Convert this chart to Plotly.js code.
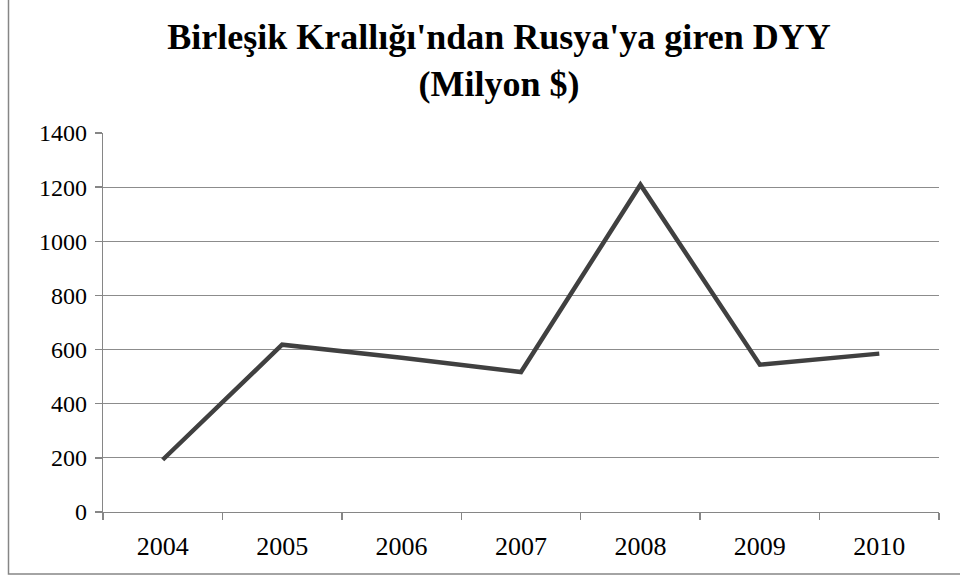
<!DOCTYPE html>
<html>
<head>
<meta charset="utf-8">
<script src="https://cdn.plot.ly/plotly-3.0.1.min.js"></script>
<style>html,body{margin:0;padding:0;background:#fff;}#chart{width:960px;height:579px;}</style>
</head>
<body>
<div id="chart"></div>
<script>
const years = ['2004', '2005', '2006', '2007', '2008', '2009', '2010'];
const fdiValues = [193, 618, 570, 517, 1209, 544, 585];
const yTicks = [0, 200, 400, 600, 800, 1000, 1200, 1400];
const titleText = "Birleşik Krallığı'ndan Rusya'ya giren DYY<br>(Milyon $)";

const W = 960, H = 579;
const margin = {l: 103, r: 21, t: 133, b: 67};
const pw = W - margin.l - margin.r, ph = H - margin.t - margin.b;
const px2paperX = x => (x - margin.l) / pw;
const px2paperY = y => (H - margin.b - y) / ph;
const serif = 'Liberation Serif';

const trace = {
  x: years, y: fdiValues, type: 'scatter', mode: 'lines',
  line: {color: '#404040', width: 4.5},
  hoverinfo: 'x+y'
};

const layout = {
  width: W, height: H, margin: margin,
  paper_bgcolor: '#ffffff', plot_bgcolor: '#ffffff',
  showlegend: false,
  font: {family: serif, color: '#000000'},
  title: {
    text: '<b>' + titleText + '</b>',
    font: {family: serif, size: 36, color: '#000000'},
    x: 499 / W, xanchor: 'center', xref: 'container',
    y: 1 - 49 / H, yanchor: 'top', yref: 'container'
  },
  xaxis: {
    type: 'category', tickson: 'boundaries', range: [-0.5, 6.5],
    showline: true, linecolor: '#868686', linewidth: 1.3,
    ticks: 'outside', ticklen: 7, tickcolor: '#868686', tickwidth: 1.3,
    ticklabelstandoff: 10,
    showgrid: false, zeroline: false,
    tickfont: {family: serif, size: 26, color: '#000000'}
  },
  yaxis: {
    range: [0, 1400], tickvals: yTicks, ticktext: yTicks.map(String),
    showline: true, linecolor: '#868686', linewidth: 1.3,
    ticks: 'outside', ticklen: 7, tickcolor: '#868686', tickwidth: 1.3,
    ticklabelstandoff: 3,
    showgrid: true, gridcolor: '#8c8c8c', gridwidth: 1.2,
    zeroline: false,
    tickfont: {family: serif, size: 24, color: '#000000'}
  },
  shapes: [
    {type: 'rect', xref: 'paper', yref: 'paper',
     x0: px2paperX(8.5), x1: px2paperX(1000), y0: px2paperY(574), y1: px2paperY(-20),
     line: {color: '#868686', width: 1.5}, fillcolor: 'rgba(0,0,0,0)', layer: 'below'}
  ]
};

Plotly.newPlot('chart', [trace], layout, {displayModeBar: false, staticPlot: true});
</script>
</body>
</html>
